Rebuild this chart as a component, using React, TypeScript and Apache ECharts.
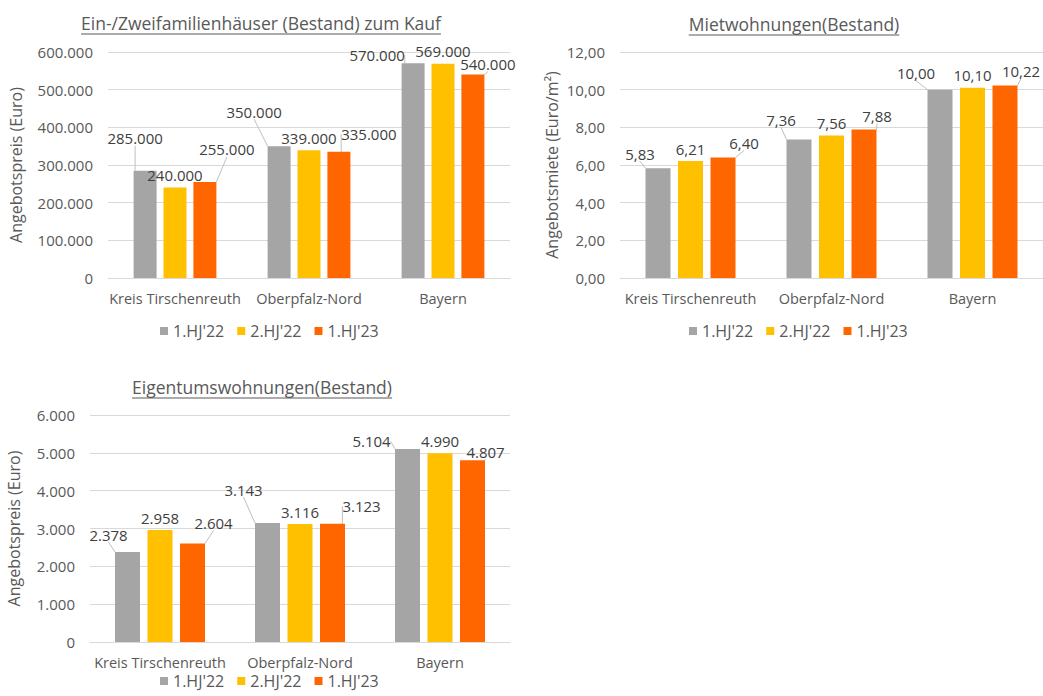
import React, { useEffect, useRef } from "react";
import * as echarts from "echarts";

const categories = ["Kreis Tirschenreuth", "Oberpfalz-Nord", "Bayern"];
const seriesNames = ["1.HJ'22", "2.HJ'22", "1.HJ'23"];
const seriesColors = ["#A5A5A5", "#FFC000", "#FF6600"];

const houseTitle = "Ein-/Zweifamilienhäuser (Bestand) zum Kauf";
const houseAxisName = "Angebotspreis (Euro)";
const house1HJ22 = [285000, 350000, 570000];
const house2HJ22 = [240000, 339000, 569000];
const house1HJ23 = [255000, 335000, 540000];

const rentTitle = "Mietwohnungen(Bestand)";
const rentAxisName = "Angebotsmiete (Euro/m²)";
const rent1HJ22 = [5.83, 7.36, 10.0];
const rent2HJ22 = [6.21, 7.56, 10.1];
const rent1HJ23 = [6.4, 7.88, 10.22];

const condoTitle = "Eigentumswohnungen(Bestand)";
const condoAxisName = "Angebotspreis (Euro)";
const condo1HJ22 = [2378, 3143, 5104];
const condo2HJ22 = [2958, 3116, 4990];
const condo1HJ23 = [2604, 3123, 4807];

// label displacements (dx, dy) per series, per category — Excel-style moved labels
const labelShifts: number[][][] = [
  [[-10, -20], [-25, -22], [-36, 4]],
  [[0, 0], [0, 0], [0, 0]],
  [[22, -20], [30, -5], [15, 2]],
  [[-18, -2], [-18, -7], [-24, -4]],
  [[0, 0], [0, 0], [0, 0]],
  [[21, -2], [13, -1], [16, -2]],
  [[-19, -5], [-24, -21], [-36, 5]],
  [[0, 0], [0, 0], [0, 0]],
  [[21, -8], [29, -5], [13, 4]],
];

const FONT = "'Open Sans', 'Noto Sans', sans-serif";
const TEXT = "#595959";
const LABEL = "#404040";
const GRID_LINE = "#D9D9D9";

const fmtThousands = (v: number) =>
  String(Math.round(v)).replace(/\B(?=(\d{3})+(?!\d))/g, ".");
const fmtDecimal = (v: number) => v.toFixed(2).replace(".", ",");

function measure(text: string, font: string) {
  const c = document.createElement("canvas").getContext("2d");
  if (!c) return text.length * 8;
  c.font = font;
  return c.measureText(text).width;
}

export default function App() {
  const ref = useRef<HTMLDivElement>(null);

  useEffect(() => {
    if (!ref.current) return;
    const chart = echarts.init(ref.current, undefined, { renderer: "svg" });

    const groups = [
      { data: [house1HJ22, house2HJ22, house1HJ23], fmt: fmtThousands, barWidth: 23 },
      { data: [rent1HJ22, rent2HJ22, rent1HJ23], fmt: fmtDecimal, barWidth: 25 },
      { data: [condo1HJ22, condo2HJ22, condo1HJ23], fmt: fmtThousands, barWidth: 25 },
    ];

    const series: any[] = [];
    groups.forEach((g, gi) => {
      g.data.forEach((vals, si) => {
        series.push({
          type: "bar",
          name: seriesNames[si],
          xAxisIndex: gi,
          yAxisIndex: gi,
          data: vals,
          barWidth: g.barWidth,
          barGap: "30%",
          itemStyle: { color: seriesColors[si] },
          label: {
            show: true,
            position: "top",
            distance: 5,
            color: LABEL,
            fontSize: 15,
            fontFamily: FONT,
            formatter: (p: any) => g.fmt(p.value),
          },
          labelLine: {
            show: si !== 1,
            lineStyle: { color: "#BFBFBF", width: 1 },
          },
          labelLayout: (p: any) => {
            const s = labelShifts[p.seriesIndex][p.dataIndex];
            return { dx: s[0], dy: s[1] };
          },
        });
      });
    });

    const xAxisBase = (gi: number) => ({
      type: "category",
      gridIndex: gi,
      data: categories,
      axisTick: { show: false },
      axisLine: { lineStyle: { color: GRID_LINE } },
      axisLabel: { color: TEXT, fontSize: 14.5, fontFamily: FONT, margin: 13, interval: 0 },
    });

    const yAxisBase = (gi: number, max: number, interval: number, fmt: (v: number) => string, name: string, nameGap: number) => ({
      type: "value",
      gridIndex: gi,
      min: 0,
      max,
      interval,
      name,
      nameLocation: "middle",
      nameGap,
      nameTextStyle: { color: TEXT, fontSize: 16, fontFamily: FONT },
      axisLine: { show: false },
      axisTick: { show: false },
      splitLine: { lineStyle: { color: GRID_LINE } },
      axisLabel: { color: TEXT, fontSize: 15, fontFamily: FONT, margin: 15, formatter: fmt },
    });

    const legendBase = (left: number, top: number) => ({
      left,
      top,
      data: seriesNames,
      icon: "rect",
      itemWidth: 8,
      itemHeight: 8,
      itemGap: 13,
      textStyle: { color: TEXT, fontSize: 16, fontFamily: FONT },
      selectedMode: false,
    });

    const titleFont = `17.5px ${FONT}`;
    const titles = [
      { text: houseTitle, x: 261, y: 23 },
      { text: rentTitle, x: 794, y: 24 },
      { text: condoTitle, x: 262, y: 387 },
    ];
    const graphic: any[] = [];
    titles.forEach((t) => {
      const w = measure(t.text, titleFont);
      graphic.push({
        type: "text",
        x: t.x,
        y: t.y,
        style: {
          text: t.text,
          fill: TEXT,
          font: titleFont,
          textAlign: "center",
          textVerticalAlign: "middle",
        },
      });
      graphic.push({
        type: "line",
        shape: { x1: t.x - w / 2, y1: t.y + 11, x2: t.x + w / 2, y2: t.y + 11 },
        style: { stroke: TEXT, lineWidth: 1 },
      });
    });

    chart.setOption({
      animation: false,
      backgroundColor: "#FFFFFF",
      grid: [
        { left: 108, top: 52, width: 402, height: 226 },
        { left: 620, top: 52, width: 423, height: 226 },
        { left: 90, top: 415, width: 420, height: 227 },
      ],
      xAxis: [xAxisBase(0), xAxisBase(1), xAxisBase(2)],
      yAxis: [
        yAxisBase(0, 600000, 100000, fmtThousands, houseAxisName, 84),
        yAxisBase(1, 12, 2, fmtDecimal, rentAxisName, 60),
        yAxisBase(2, 6000, 1000, fmtThousands, condoAxisName, 68),
      ],
      legend: [legendBase(155, 318), legendBase(684, 318), legendBase(155, 668)],
      series,
      graphic,
    });

    return () => chart.dispose();
  }, []);

  return (
    <div
      ref={ref}
      style={{ position: "absolute", left: 0, top: 0, width: 1043, height: 696 }}
    />
  );
}
